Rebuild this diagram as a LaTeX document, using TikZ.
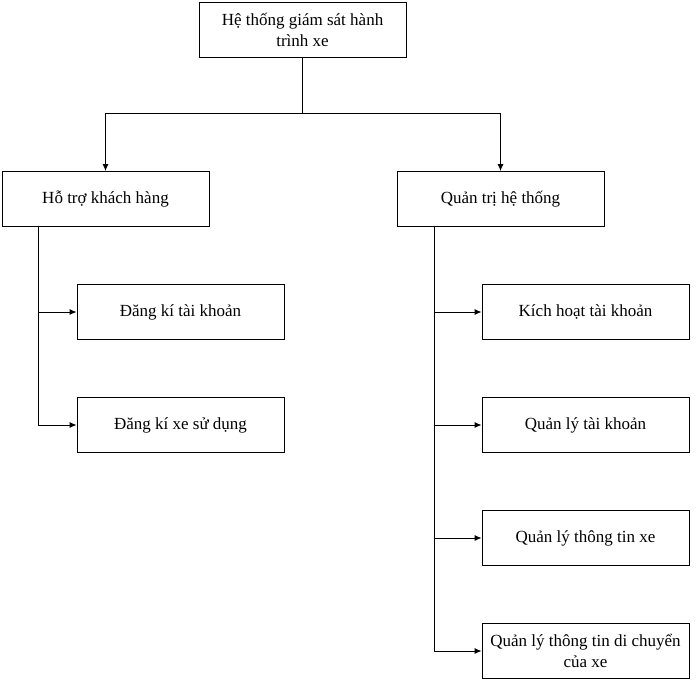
\documentclass[tikz,border=0pt]{standalone}
\usepackage{fontspec}
\setmainfont{Liberation Serif}
\usetikzlibrary{arrows.meta}

\tikzset{
  hop/.style = {draw, line width=0.9pt, minimum width=207pt, minimum height=55pt, align=center, inner sep=2pt, font=\fontsize{17}{21.5}\selectfont},
  noi/.style = {line width=0.9pt},
  muiten/.style = {noi, -{Latex[length=7pt,width=6pt]}}
}

\begin{document}
\begin{tikzpicture}[x=1pt,y=-1pt]

\useasboundingbox (0,0) rectangle (696,681) ;

\node[hop] (goc) at (302.5,30) {Hệ thống giám sát hành\\trình xe} ;

\node[hop] (hotro) at (105.5,199) {Hỗ trợ khách hàng} ;
\node[hop] (quantri) at (500.5,199) {Quản trị hệ thống} ;

\node[hop] (dktk) at (180.5,312) {Đăng kí tài khoản} ;
\node[hop] (dkxe) at (180.5,425) {Đăng kí xe sử dụng} ;

\node[hop] (kichhoat) at (585.5,312) {Kích hoạt tài khoản} ;
\node[hop] (qltk) at (585.5,425) {Quản lý tài khoản} ;
\node[hop] (qlxe) at (585.5,538) {Quản lý thông tin xe} ;
\node[hop] (qldc) at (585.5,651) {Quản lý thông tin di chuyển\\của xe} ;

\coordinate (chia) at (302.5,113) ;
\draw[noi] (goc.south) -- (chia) ;
\draw[muiten] (chia) -| (hotro.north) ;
\draw[muiten] (chia) -| (quantri.north) ;

\coordinate (tructrai) at ([xshift=37pt]hotro.south west) ;
\draw[muiten] (tructrai) |- (dktk.west) ;
\draw[muiten] (tructrai) |- (dkxe.west) ;

\coordinate (trucphai) at ([xshift=38pt]quantri.south west) ;
\draw[muiten] (trucphai) |- (kichhoat.west) ;
\draw[muiten] (trucphai) |- (qltk.west) ;
\draw[muiten] (trucphai) |- (qlxe.west) ;
\draw[muiten] (trucphai) |- (qldc.west) ;

\end{tikzpicture}
\end{document}
